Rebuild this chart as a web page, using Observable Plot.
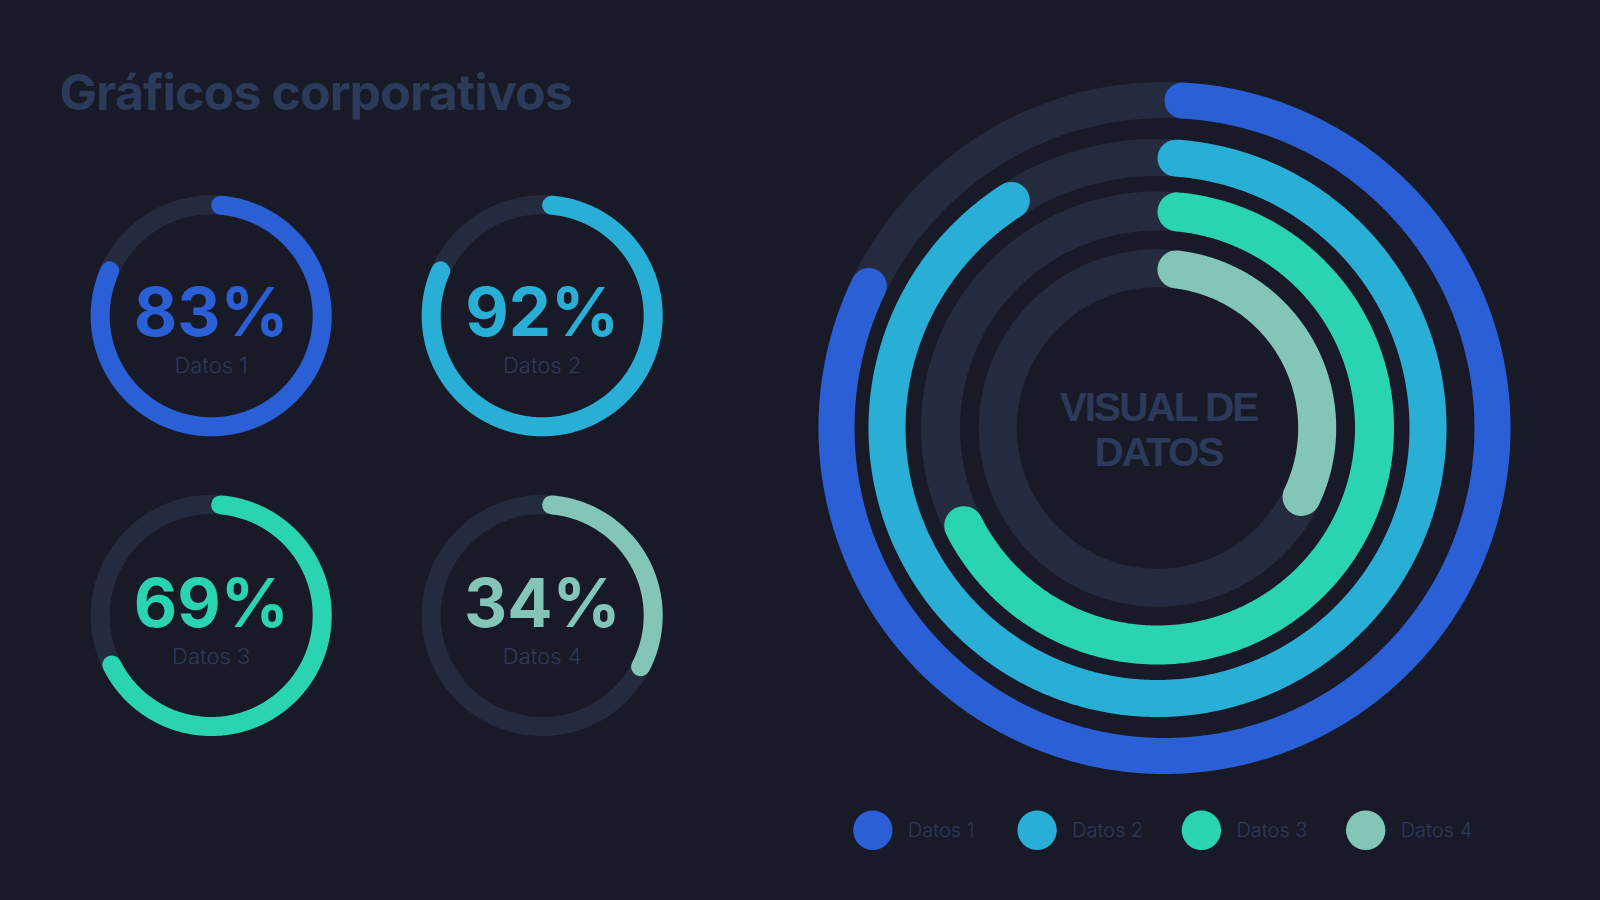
<!DOCTYPE html>
<html><head><meta charset="utf-8">
<script src="https://cdn.jsdelivr.net/npm/d3@7"></script>
<script src="https://cdn.jsdelivr.net/npm/@observablehq/plot@0.6"></script>
<style>
html,body{margin:0;padding:0;background:#181b27;overflow:hidden;}
#chart{width:1600px;height:900px;}
</style></head><body><div id="chart"></div>
<script>
// ---- data ----
const title = "Gráficos corporativos";
const categories = ["Datos 1", "Datos 2", "Datos 3", "Datos 4"];
const values = [83, 92, 69, 34];            // printed percentages / big rings
const smallArcShown = [83, 83, 69, 34];     // arc length drawn in the small donuts (as pictured)
const colors = ["#2a5fd6", "#29afd5", "#2bd4b0", "#83c6b7"];
const centerLines = ["VISUAL DE", "DATOS"];

// ---- layout ----
const W = 1600, H = 900;
const trackColor = "#252b3e";
const dimText = "#2d3a5b";
const small = {r: 111, w: 19, cols: [210.7, 541.7], rows: [315.3, 615], pctDy: [20.4, 11.7], labDy: [57, 48.3]};
const big = {cx: 1157, cy: 427.5, dx: [7, 0, 0, 0], r: [328, 270.5, 217, 159.7], w: [36, 37, 39, 38]};
const legend = {x0: 872.3, dx: 164.3, y: 829.7, r: 19.7, labelDx: 35, labelY: 836.7};

function arcPts(cx, cy, r, w, frac, key) {
  const cap = (w / 2) / r;
  const a0 = cap, a1 = frac * 2 * Math.PI - cap;
  const n = Math.max(2, Math.ceil((a1 - a0) / (Math.PI / 360)));
  return d3.range(n + 1).map(k => {
    const a = a0 + (a1 - a0) * k / n;
    return {x: cx + r * Math.sin(a), y: cy - r * Math.cos(a), key};
  });
}
function ringPts(cx, cy, r, key) {
  return d3.range(721).map(k => {
    const a = k * Math.PI / 360;
    return {x: cx + r * Math.sin(a), y: cy - r * Math.cos(a), key};
  });
}

const marks = [];

// small donuts
categories.forEach((cat, i) => {
  const col = i % 2, row = Math.floor(i / 2);
  const cx = small.cols[col], cy = small.rows[row];
  marks.push(Plot.line(ringPts(cx, cy, small.r, cat), {x: "x", y: "y", stroke: trackColor, strokeWidth: small.w, curve: "linear"}));
  marks.push(Plot.line(arcPts(cx, cy, small.r, small.w, smallArcShown[i] / 100, cat), {x: "x", y: "y", z: "key", stroke: "key", strokeWidth: small.w, strokeLinecap: "round", curve: "linear"}));
});
const smallText = categories.map((cat, i) => ({cat, v: values[i], x: small.cols[i % 2], cy: small.rows[Math.floor(i / 2)], row: Math.floor(i / 2)}));
marks.push(Plot.text(smallText, {x: "x", y: d => d.cy + small.pctDy[d.row], text: d => d.v + "%", fill: "cat", fontSize: 67, fontWeight: 700, fontFamily: "Inter, sans-serif", lineAnchor: "bottom", textAnchor: "middle"}));
marks.push(Plot.text(smallText, {x: "x", y: d => d.cy + small.labDy[d.row], text: "cat", fill: dimText, fontSize: 22, fontWeight: 300, fontFamily: "Inter, sans-serif", lineAnchor: "bottom", textAnchor: "middle"}));

// big concentric rings
categories.forEach((cat, i) => {
  const cx = big.cx + big.dx[i];
  marks.push(Plot.line(ringPts(cx, big.cy, big.r[i], cat), {x: "x", y: "y", stroke: trackColor, strokeWidth: big.w[i], curve: "linear"}));
  marks.push(Plot.line(arcPts(cx, big.cy, big.r[i], big.w[i], values[i] / 100, cat), {x: "x", y: "y", z: "key", stroke: "key", strokeWidth: big.w[i], strokeLinecap: "round", curve: "linear"}));
});
marks.push(Plot.text([centerLines.join("\n")], {x: big.cx + 1, y: 465.7, text: d => d, fill: dimText, fontSize: 40.5, fontWeight: 700, fontFamily: "'Liberation Sans', Arial, sans-serif", lineAnchor: "bottom", lineHeight: 45.7 / 40.5, textAnchor: "middle"}));

// title
marks.push(Plot.text([title], {x: 59, y: 109, text: d => d, fill: "#2c3a5c", fontSize: 50, fontWeight: 700, fontFamily: "Inter, sans-serif", lineAnchor: "bottom", textAnchor: "start"}));

// legend
marks.push(Plot.dot(categories, {x: (d, i) => legend.x0 + i * legend.dx, y: legend.y, r: legend.r, fill: d => d, stroke: null}));
marks.push(Plot.text(categories, {x: (d, i) => legend.x0 + i * legend.dx + legend.labelDx, y: legend.labelY, text: d => d, fill: dimText, fontSize: 20, fontWeight: 300, fontFamily: "Inter, sans-serif", lineAnchor: "bottom", textAnchor: "start"}));

const chart = Plot.plot({
  width: W, height: H, margin: 0,
  x: {domain: [0, W], range: [0, W], axis: null},
  y: {domain: [0, H], range: [0, H], axis: null},
  color: {domain: categories, range: colors},
  style: {background: "#181b27", fontFamily: "Inter, sans-serif"},
  marks
});
// tighten tracking of the title and the centre label
d3.select(chart).selectAll("text").each(function () {
  const t = this.textContent;
  if (t === title) this.style.letterSpacing = "-0.9px";
  else if (t === centerLines.join("")) this.style.letterSpacing = "-2px";
});
document.getElementById("chart").appendChild(chart);
</script>
</body></html>
